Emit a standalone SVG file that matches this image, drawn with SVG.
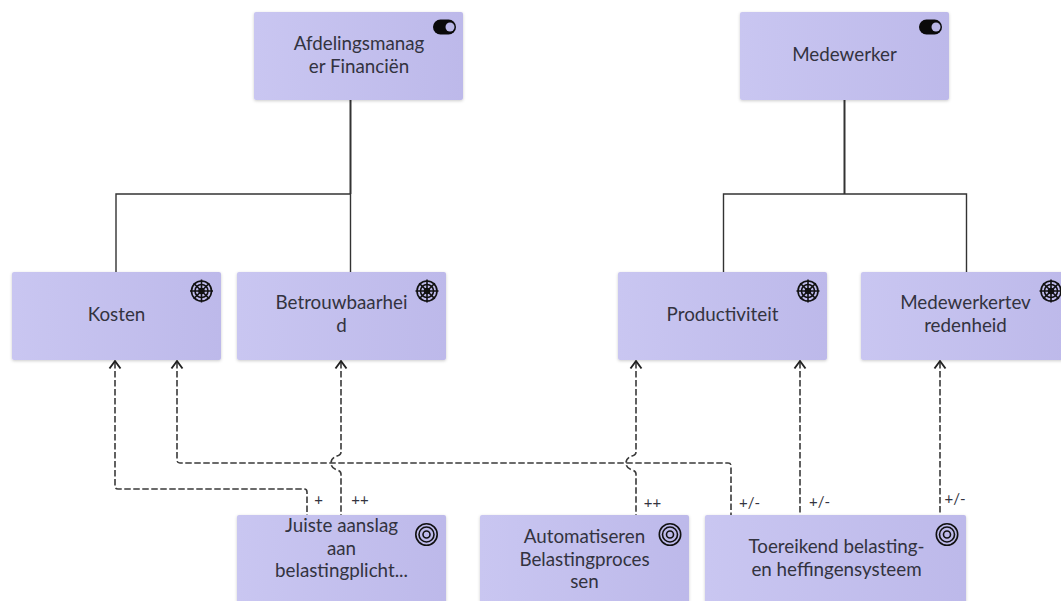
<svg xmlns="http://www.w3.org/2000/svg" width="1061" height="601" viewBox="0 0 1061 601">
<style>
text{font-family:Lato,"Open Sans",sans-serif;fill:#333340}
.l{font-size:18.800px;text-anchor:middle}
.e{font-size:15px;text-anchor:middle}
.n{fill:url(#g);filter:url(#s)}
.c{fill:none;stroke:#333;stroke-width:1.4}
.t{stroke-width:2}
.d{fill:none;stroke:#3a3a3a;stroke-width:1.6;stroke-dasharray:6.500 2.500}
.a{fill:none;stroke:#222;stroke-width:1.9}
.i{fill:none;stroke:#111;stroke-width:1.6}
</style>
<defs>
<linearGradient id="g" x1="0" y1="0" x2="1" y2="0"><stop offset="0" stop-color="#c9c6f1"/><stop offset="1" stop-color="#bdb9ea"/></linearGradient>
<filter id="s" x="-5%" y="-5%" width="110%" height="112%"><feDropShadow dx="0" dy="1" stdDeviation="1.500" flood-color="#000" flood-opacity=".2"/></filter>
<g id="toggle"><rect x="-11.500" y="-7.500" width="23" height="15" rx="7.500" fill="#0a0a0a"/><circle cx="5.500" cy="0" r="4.500" fill="#b9b6e6"/></g>
<g id="wheel"><circle r="10" class="i"/><circle r="6.500" class="i" stroke-width="1"/><circle r="2.500" class="i"/><path class="i" d="M0-11.500V11.500M-11.500 0H11.500M-7.800-7.800 7.800 7.800M-7.800 7.800 7.800-7.800"/></g>
<g id="target"><circle r="10.700" class="i"/><circle r="7.500" class="i"/><circle r="3.500" class="i"/></g>
<path id="ah" class="a" d="M-5.500 7.500 0 0 5.500 7.500"/>
</defs>
<g id="connectors">
<path class="c t" d="M350.500 100V194"/><path class="c" d="M350.500 194H116V272M350.500 194V272"/>
<path class="c t" d="M844.500 100V194"/><path class="c" d="M723.500 272V194H966.500V272"/>
<path class="d" d="M115 362V486Q115 489 118 489H304Q307 489 307 492V515"/>
<path class="d" d="M177 362V460Q177 463 180 463H728Q731 463 731 466V515"/>
<path class="d" d="M341 362V452Q341 455 337 456Q331 458 331 463Q331 468 337 470Q341 471 341 474V515"/>
<path class="d" d="M636 362V452Q636 455 632 456Q626 458 626 463Q626 468 632 470Q636 471 636 474V515"/>
<path class="d" d="M800 362V515"/><path class="d" d="M940 362V515"/>
<use href="#ah" x="115" y="361"/><use href="#ah" x="177" y="361"/><use href="#ah" x="341" y="361"/><use href="#ah" x="636" y="361"/><use href="#ah" x="800" y="361"/><use href="#ah" x="940" y="361"/>
<text class="e" x="318.500" y="505">+</text><text class="e" x="360" y="505">++</text><text class="e" x="652.500" y="508">++</text><text class="e" x="749.500" y="508">+/-</text><text class="e" x="819.500" y="507">+/-</text><text class="e" x="955" y="504">+/-</text>
</g>
<g id="n1"><rect class="n" x="254" y="12" width="209" height="88" rx="2"/><use href="#toggle" x="444.500" y="27"/><text class="l" x="359" y="50">Afdelingsmanag</text><text class="l" x="359" y="73">er Financiën</text></g>
<g id="n2"><rect class="n" x="740" y="12" width="209" height="88" rx="2"/><use href="#toggle" x="930.500" y="27"/><text class="l" x="844.500" y="61">Medewerker</text></g>
<g id="n3"><rect class="n" x="12" y="272" width="209" height="88" rx="2"/><use href="#wheel" x="201.500" y="291"/><text class="l" x="116.500" y="321">Kosten</text></g>
<g id="n4"><rect class="n" x="237" y="272" width="209" height="88" rx="2"/><use href="#wheel" x="427" y="291"/><text class="l" x="341.500" y="309">Betrouwbaarhei</text><text class="l" x="341.500" y="332">d</text></g>
<g id="n5"><rect class="n" x="618" y="272" width="209" height="88" rx="2"/><use href="#wheel" x="808" y="291"/><text class="l" x="722.500" y="321">Productiviteit</text></g>
<g id="n6"><rect class="n" x="861" y="272" width="209" height="88" rx="2"/><use href="#wheel" x="1051" y="291"/><text class="l" x="965.500" y="309">Medewerkertev</text><text class="l" x="965.500" y="332">redenheid</text></g>
<g id="n7"><rect class="n" x="237" y="515" width="209" height="88" rx="2"/><use href="#target" x="426.500" y="534.500"/><text class="l" x="341.500" y="532">Juiste aanslag</text><text class="l" x="341.500" y="555">aan</text><text class="l" x="341.500" y="577">belastingplicht...</text></g>
<g id="n8"><rect class="n" x="480" y="515" width="209" height="88" rx="2"/><use href="#target" x="670" y="534.500"/><text class="l" x="584.500" y="543">Automatiseren</text><text class="l" x="584.500" y="566">Belastingproces</text><text class="l" x="584.500" y="588">sen</text></g>
<g id="n9"><rect class="n" x="705" y="515" width="261" height="88" rx="2"/><use href="#target" x="947" y="534.500"/><text class="l" x="836.500" y="553">Toereikend belasting-</text><text class="l" x="836.500" y="576">en heffingensysteem</text></g>
</svg>
